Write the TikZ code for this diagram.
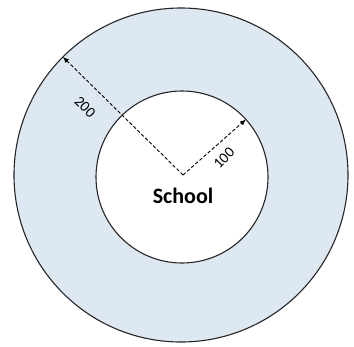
\documentclass[tikz,border=0pt]{standalone}
\usepackage{fontspec}
\setmainfont{Carlito}
\usetikzlibrary{arrows.meta}
\definecolor{zonefill}{RGB}{222,232,242}

\begin{document}
\begin{tikzpicture}[x=1pt, y=-1pt, every node/.style={font=\fontsize{15}{15}\selectfont},
    zone/.style={circle, draw=black!85, line width=1.1pt, inner sep=0pt, outer sep=0pt},
    radius/.style={-{Latex[length=6pt,width=5pt]}, line width=0.9pt, dash pattern=on 3.5pt off 2pt}]

    % Frame
    \useasboundingbox (0,0) rectangle (354,346);

    % Outer zone
    \node[zone, fill=zonefill, minimum size=334pt] (outer) at (181,175) {};

    % Inner zone
    \node[zone, fill=white, minimum size=172pt] (inner) at (182,177) {};

    % School at the centre
    \coordinate (centre) at (183,175);
    \node[font=\fontsize{22}{22}\selectfont\bfseries] (school) at (183,196) {School};

    % Radii
    \draw[radius] (centre) -- (outer.135);
    \draw[radius] (centre) -- (inner.42);

    % Radius labels
    \node[rotate=-45] (twohundred) at (85,107) {200};
    \node[rotate=45] (onehundred) at (224,158) {100};

\end{tikzpicture}
\end{document}
